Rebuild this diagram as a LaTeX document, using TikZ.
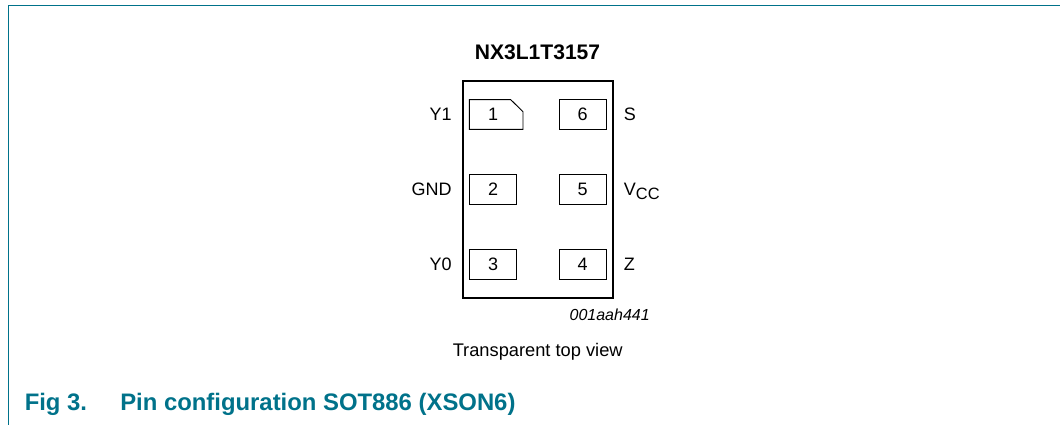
\documentclass[tikz,border=0pt]{standalone}
\usepackage{fontspec}
\setmainfont{Liberation Sans}
\usepackage{xcolor}
\usetikzlibrary{positioning}
\definecolor{figteal}{RGB}{0,114,138}
\begin{document}
\begin{tikzpicture}[x=0.75pt,y=-0.75pt,
    pin/.style={draw,line width=0.7pt,minimum width=35.5pt,minimum height=22.3pt,inner sep=0pt,outer sep=0pt,font=\fontsize{13.5}{15}\selectfont},
    pinlabel/.style={inner sep=0pt,font=\fontsize{13.5}{15}\selectfont},
    figtext/.style={anchor=base west,inner sep=0pt,text=figteal,font=\bfseries\fontsize{17.9}{20}\selectfont}]
  \useasboundingbox (0,0) rectangle (1060,425);
  \draw[figteal,line width=0.8pt] (1060,5.5) -- (8.5,5.5) -- (8.5,425);
  \node[font=\bfseries\fontsize{15.8}{18}\selectfont] (title) at (537.5,52.5) {NX3L1T3157};
  \node[draw,line width=1.5pt,minimum width=112.5pt,minimum height=163pt] (body) at (538,189.5) {};
  \node[pin,draw=none] (pin1) at (493,114.5) {1};
  \draw[line width=0.7pt,line join=miter] (pin1.north west) -- (510.7,99.65) -- (523,111.7) -- (523,129.35) -- (pin1.south west) -- cycle;
  \node[pin] (pin2) at (493,189.3) {2};
  \node[pin] (pin3) at (493,264.2) {3};
  \node[pin] (pin6) at (582.7,114.5) {6};
  \node[pin] (pin5) at (582.7,189.3) {5};
  \node[pin] (pin4) at (582.7,264.2) {4};
  \node[pinlabel,left=13pt of pin1] (y1) {Y1};
  \node[pinlabel,left=13pt of pin2] (gnd) {GND};
  \node[pinlabel,left=13pt of pin3] (y0) {Y0};
  \node[pinlabel,right=13pt of pin6] (s) {S};
  \node[pinlabel,right=13pt of pin5] (vcc) {V\raisebox{-3pt}[0pt][0pt]{\fontsize{12.3}{14}\selectfont CC}};
  \node[pinlabel,right=13pt of pin4] (z) {Z};
  \node[anchor=east,inner sep=0pt,font=\itshape\fontsize{12}{14}\selectfont] (code) at (650,314.5) {001aah441};
  \node[anchor=base,inner sep=0pt,font=\fontsize{13.7}{16}\selectfont] (view) at (537.7,356) {Transparent top view};
  \node[figtext] (fignum) at (24.5,410) {Fig 3.};
  \node[figtext] (figcap) at (120,410) {Pin configuration SOT886 (XSON6)};
\end{tikzpicture}
\end{document}
